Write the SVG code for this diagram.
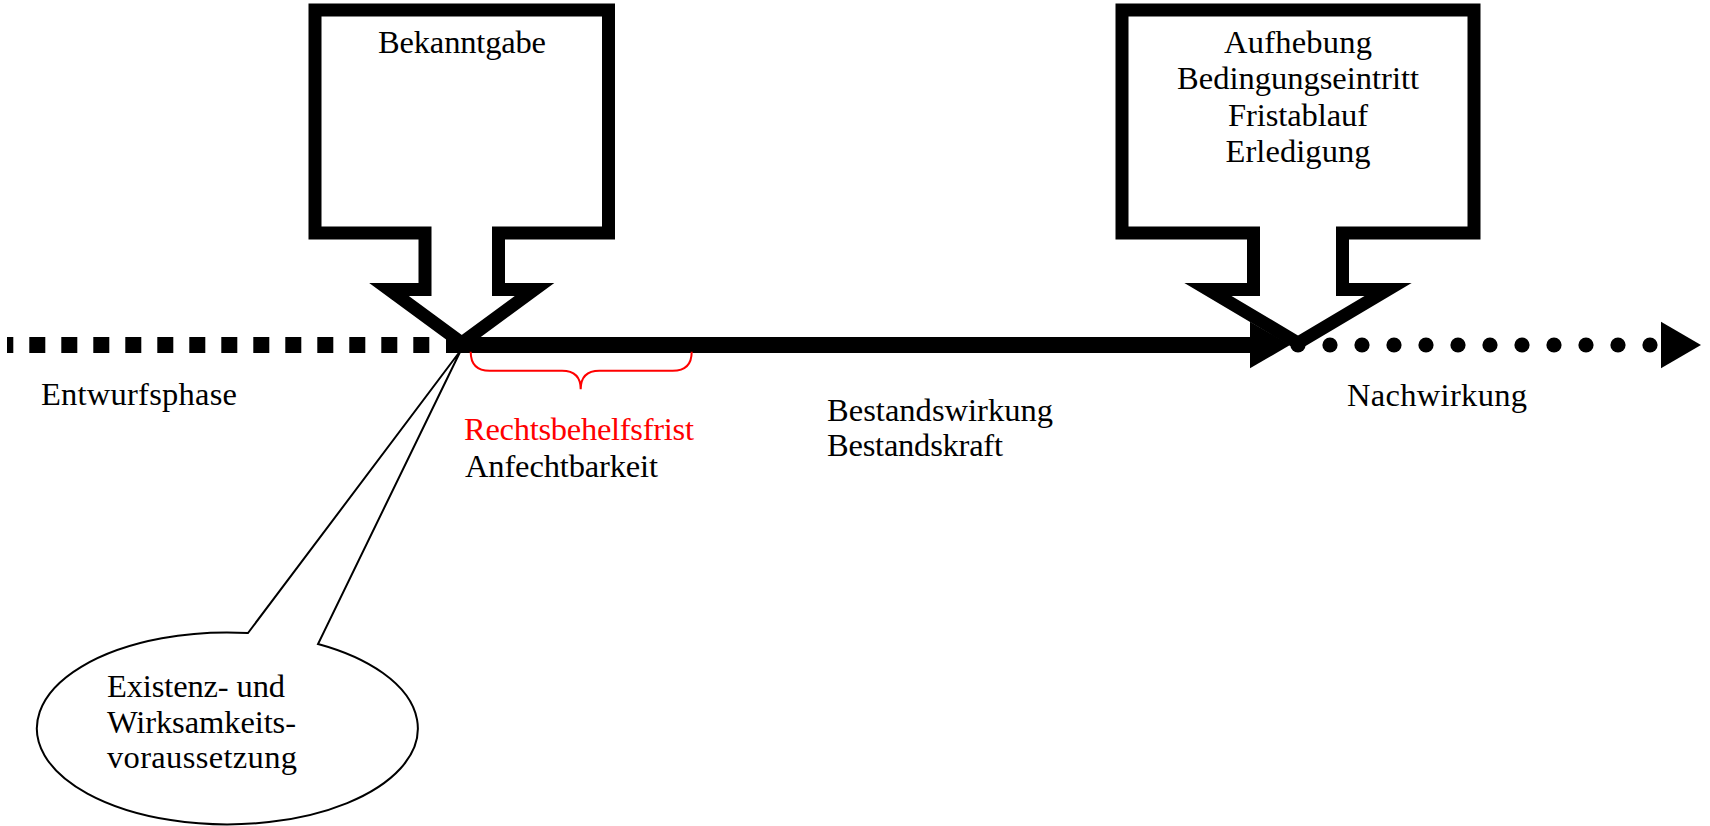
<svg xmlns="http://www.w3.org/2000/svg" width="1710" height="826" viewBox="0 0 1710 826">
  <style>
    text { font-family: "Liberation Serif", "Times New Roman", serif; font-size: 32.5px; fill: #000; }
    .mid { text-anchor: middle; }
    .red { fill: #ff0000; }
    .callout-box { fill: #fff; stroke: #000; stroke-width: 13; stroke-linejoin: miter; stroke-miterlimit: 10; }
    .bubble { fill: #fff; stroke: #000; stroke-width: 2; stroke-linejoin: miter; }
    .brace { fill: none; stroke: #ff0000; stroke-width: 2; }
    .head { fill: #000; }
    .dot { fill: #000; }
  </style>
  <defs>
    <path id="arrowhead" class="head" d="M0,-23.3 L40,0 L0,23.3 Z"/>
    <circle id="dot" class="dot" r="7.6"/>
  </defs>

  <rect width="1710" height="826" fill="#fff"/>

  <!-- speech bubble pointing to the moment of notification -->
  <g id="node-existenz">
    <path class="bubble" d="M248,633 L461,350 L318,644 A190.5 96 0 1 1 248,633 Z"/>
    <text x="107" y="697" textLength="178">Existenz- und</text>
    <text x="107" y="733" textLength="189">Wirksamkeits-</text>
    <text x="107" y="768" textLength="190">voraussetzung</text>
  </g>

  <!-- timeline -->
  <g id="connectors">
    <line x1="7" y1="345" x2="429.3" y2="345" stroke="#000" stroke-width="16" stroke-dasharray="16 16" stroke-dashoffset="9.7"/>
    <line x1="446" y1="345" x2="1252" y2="345" stroke="#000" stroke-width="16"/>
    <use href="#arrowhead" x="1250" y="345"/>
    <g id="after-effect-dots">
      <use href="#dot" x="1298" y="345"/>
      <use href="#dot" x="1330" y="345"/>
      <use href="#dot" x="1362" y="345"/>
      <use href="#dot" x="1394" y="345"/>
      <use href="#dot" x="1426" y="345"/>
      <use href="#dot" x="1458" y="345"/>
      <use href="#dot" x="1490" y="345"/>
      <use href="#dot" x="1522" y="345"/>
      <use href="#dot" x="1554" y="345"/>
      <use href="#dot" x="1586" y="345"/>
      <use href="#dot" x="1618" y="345"/>
      <use href="#dot" x="1650" y="345"/>
    </g>
    <use href="#arrowhead" x="1661" y="345"/>
    <path class="brace" d="M470.7,351.7 Q470.7,370.7 489.7,370.7 L562,370.7 Q580.7,370.7 580.7,389.3 Q580.7,370.7 599.4,370.7 L672.7,370.7 Q691.7,370.7 691.7,351.7"/>
  </g>

  <!-- callout: notification -->
  <g id="node-bekanntgabe">
    <path class="callout-box" d="M315,10 L608.5,10 L608.5,233 L498.5,233 L498.5,289.5 L534.5,289.5 L461.75,343 L389,289.5 L425,289.5 L425,233 L315,233 Z"/>
    <text class="mid" x="462" y="53" textLength="168">Bekanntgabe</text>
  </g>

  <!-- callout: end of effect -->
  <g id="node-aufhebung">
    <path class="callout-box" d="M1122,10 L1474,10 L1474,233 L1342.5,233 L1342.5,289.5 L1388,289.5 L1298,343 L1208,289.5 L1253.5,289.5 L1253.5,233 L1122,233 Z"/>
    <text class="mid" x="1298" y="53" textLength="148">Aufhebung</text>
    <text class="mid" x="1298" y="89" textLength="242">Bedingungseintritt</text>
    <text class="mid" x="1298" y="126" textLength="140">Fristablauf</text>
    <text class="mid" x="1298" y="162" textLength="145">Erledigung</text>
  </g>

  <!-- phase labels -->
  <g id="label-entwurf">
    <text x="41" y="405" textLength="196">Entwurfsphase</text>
  </g>
  <g id="label-frist">
    <text class="red" x="464" y="440" textLength="230">Rechtsbehelfsfrist</text>
    <text x="465" y="476.5" textLength="193">Anfechtbarkeit</text>
  </g>
  <g id="label-bestand">
    <text x="827" y="420.5" textLength="226">Bestandswirkung</text>
    <text x="827" y="456" textLength="176">Bestandskraft</text>
  </g>
  <g id="label-nachwirkung">
    <text x="1347" y="406" textLength="180">Nachwirkung</text>
  </g>
</svg>
